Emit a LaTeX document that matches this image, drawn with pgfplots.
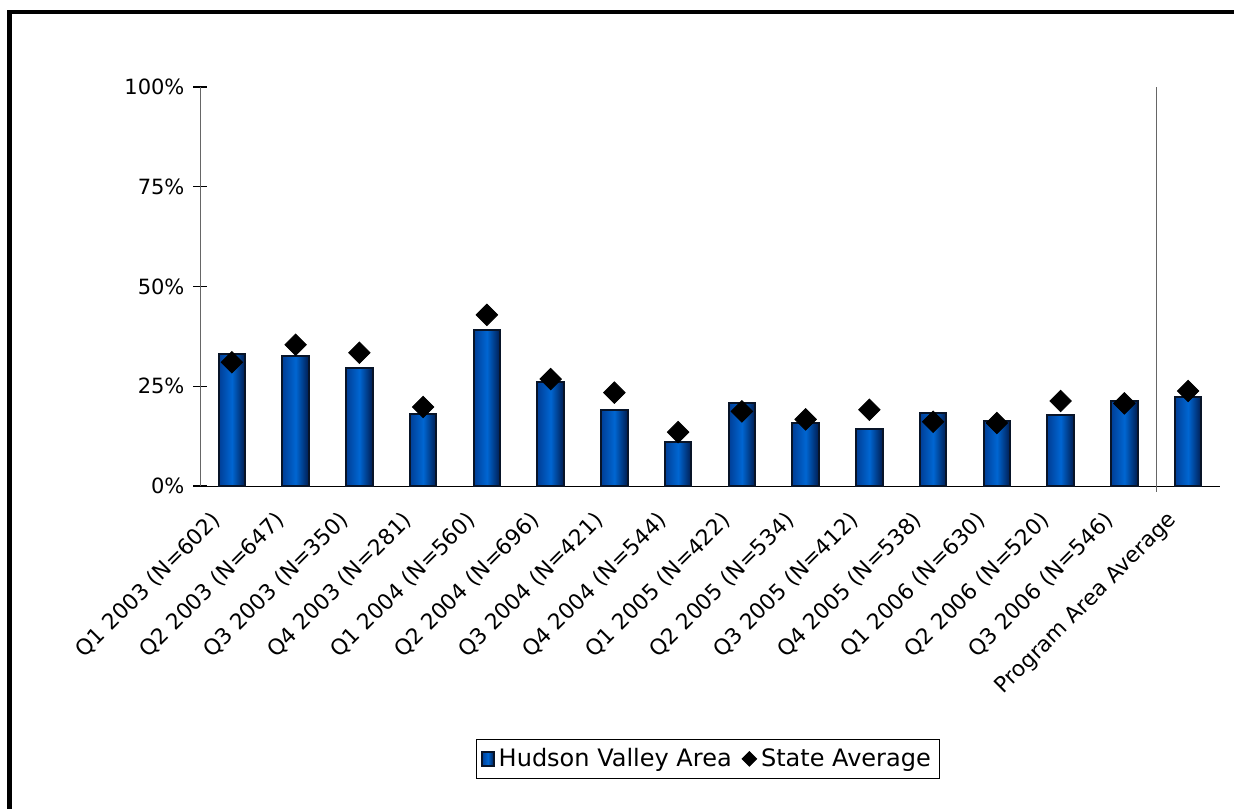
\documentclass[border=0pt]{standalone}
\usepackage{fontspec}
\setmainfont{DejaVu Sans}
\usepackage{pgfplots}
\pgfplotsset{compat=1.18}
\definecolor{barmid}{RGB}{0,102,210}
\definecolor{barleft}{RGB}{0,62,150}
\definecolor{barright}{RGB}{0,28,80}
\definecolor{barline}{RGB}{8,20,40}
\pgfplotsset{
  hvbar/.style={ybar, bar width=13.3pt, bar shift=0pt, draw=barline, line width=1pt,
    left color=barleft, right color=barright, middle color=barmid},
}
\begin{document}
\begin{tikzpicture}
\useasboundingbox (0,0) rectangle (617pt,404pt);
\draw[line width=2.3pt] (4.85pt,-2pt) -- (4.85pt,398pt) -- (620pt,398pt);
\begin{axis}[
  at={(100pt,161pt)}, anchor=south west,
  scale only axis, width=510pt, height=199.5pt,
  xmin=-0.5, xmax=15.5, ymin=0, ymax=100,
  axis x line*=bottom, axis y line*=left,
  x axis line style={black,-}, y axis line style={gray!80!black,-},
  clip=false,
  font=\fontsize{10.5}{12}\selectfont,
  ytick={0,25,50,75,100},
  yticklabels={0\%,25\%,50\%,75\%,100\%},
  ytick align=center, ytick pos=left,
  ytick style={black, line width=0.6pt},
  major tick length=6.5pt,
  yticklabel style={xshift=-1pt},
  xtick={0,...,15},
  xticklabels={Q1 2003 (N=602),Q2 2003 (N=647),Q3 2003 (N=350),Q4 2003 (N=281),Q1 2004 (N=560),Q2 2004 (N=696),Q3 2004 (N=421),Q4 2004 (N=544),Q1 2005 (N=422),Q2 2005 (N=534),Q3 2005 (N=412),Q4 2005 (N=538),Q1 2006 (N=630),Q2 2006 (N=520),Q3 2006 (N=546),Program Area Average},
  xtick style={draw=none},
  xticklabel style={rotate=45, anchor=north east, inner sep=1pt, xshift=-15pt, yshift=0.5pt, font=\fontsize{10.9}{12}\selectfont},
  legend style={at={(0.498,-0.684)}, anchor=center, draw=black, line width=0.5pt,
    font=\fontsize{12}{14}\selectfont, legend columns=-1, inner sep=2.5pt,
    /tikz/every even column/.append style={column sep=3pt}},
  legend cell align=left,
]
\addplot[hvbar,
  legend image code/.code={\draw[draw=barline, line width=0.8pt, left color=barleft, right color=barright, middle color=barmid] (0pt,-3.6pt) rectangle (6pt,3.6pt);}]
  coordinates {(0,33.2)};
\addlegendentry{Hudson Valley Area}
\addplot[hvbar, forget plot] coordinates {(1,32.6)};
\addplot[hvbar, forget plot] coordinates {(2,29.5)};
\addplot[hvbar, forget plot] coordinates {(3,18.1)};
\addplot[hvbar, forget plot] coordinates {(4,39.1)};
\addplot[hvbar, forget plot] coordinates {(5,26.1)};
\addplot[hvbar, forget plot] coordinates {(6,19.1)};
\addplot[hvbar, forget plot] coordinates {(7,11.1)};
\addplot[hvbar, forget plot] coordinates {(8,20.8)};
\addplot[hvbar, forget plot] coordinates {(9,15.8)};
\addplot[hvbar, forget plot] coordinates {(10,14.3)};
\addplot[hvbar, forget plot] coordinates {(11,18.3)};
\addplot[hvbar, forget plot] coordinates {(12,16.3)};
\addplot[hvbar, forget plot] coordinates {(13,17.8)};
\addplot[hvbar, forget plot] coordinates {(14,21.4)};
\addplot[hvbar, forget plot] coordinates {(15,22.4)};
\addplot[only marks, mark=square*, mark size=3.8pt, mark options={rotate=45, fill=black, draw=black},
  legend image code/.code={\fill[black] (3pt,-3.6pt) -- (6.6pt,0pt) -- (3pt,3.6pt) -- (-0.6pt,0pt) -- cycle;}]
  coordinates {
  (0,31.0) (1,35.4) (2,33.4) (3,19.8) (4,42.9) (5,26.8) (6,23.4) (7,13.5)
  (8,18.7) (9,16.7) (10,19.1) (11,16.1) (12,15.8) (13,21.3) (14,20.7) (15,23.8)};
\addlegendentry{State Average}
\draw[gray!80!black, line width=0.6pt] (axis cs:14.5,-1.4) -- (axis cs:14.5,100);
\end{axis}
\end{tikzpicture}
\end{document}
